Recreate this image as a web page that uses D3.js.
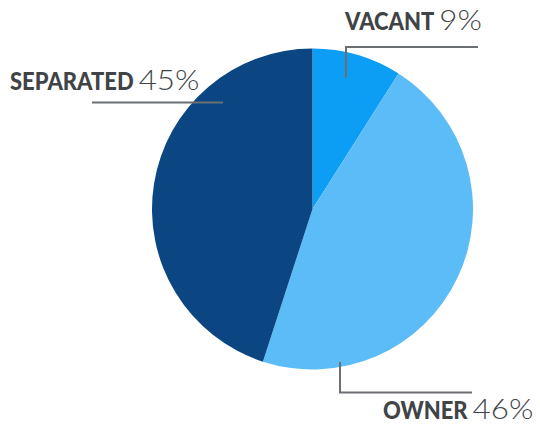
<!DOCTYPE html>
<meta charset="utf-8">
<style>
body { margin: 0; background: #fff; }
text { font-family: 'Lato', sans-serif; fill: #404447; }
.lbl { font-weight: 900; font-size: 25px; }
.pct { font-weight: 300; font-size: 28px; }
.leader { fill: none; stroke: #6b6f73; stroke-width: 2; }
</style>
<svg width="540" height="424"></svg>
<script src="https://d3js.org/d3.v7.min.js"></script>
<script>

var categories = ["VACANT", "OWNER", "SEPARATED"];
var values = [9, 46, 45];
var colors = ["#0c9df4", "#5bbcf8", "#0b4682"];

var svg = d3.select("svg"),
    cx = 312.5, cy = 209, radius = 160.5;

var pie = d3.pie().sort(null).value(function(d) { return d.value; });
var arc = d3.arc().innerRadius(0).outerRadius(radius);

var data = categories.map(function(c, i) { return {name: c, value: values[i], color: colors[i]}; });

var g = svg.append("g")
    .attr("transform", "translate(" + cx + "," + cy + ")");

g.selectAll("path")
  .data(pie(data))
  .enter().append("path")
    .attr("d", arc)
    .attr("fill", function(d) { return d.data.color; });

// leader lines + labels (layout only)
var labelLayout = {
  VACANT:    {x: 345, y: 30, line: [[346, 78], [346, 47], [478, 47]]},
  SEPARATED: {x: 10, y: 90, line: [[92, 102.5], [223, 102.5]]},
  OWNER:     {x: 383, y: 419, line: [[340, 362], [340, 392.5], [472, 392.5]]}
};
var labelSqueeze = 0.88, pctStretch = 1.12, gap = 5;

data.forEach(function(d) {
  var l = labelLayout[d.name];
  svg.append("path")
    .attr("class", "leader")
    .attr("d", d3.line()(l.line));
  var lab = svg.append("text")
    .attr("class", "lbl")
    .attr("transform", "translate(" + l.x + "," + l.y + ") scale(" + labelSqueeze + ",1)")
    .text(d.name);
  var w = lab.node().getComputedTextLength() * labelSqueeze;
  svg.append("text")
    .attr("class", "pct")
    .attr("transform", "translate(" + (l.x + w + gap) + "," + l.y + ") scale(" + pctStretch + ",1)")
    .text(d.value + "%");
});

</script>
